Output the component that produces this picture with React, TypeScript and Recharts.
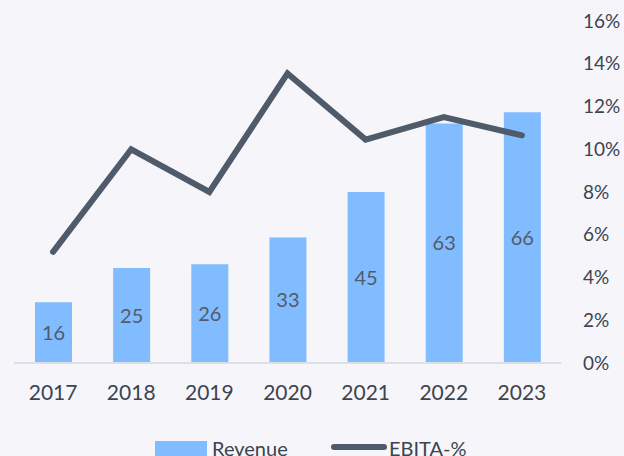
import type { JSX } from "react";
import { Bar, ComposedChart, LabelList, Legend, Line, XAxis, YAxis } from "recharts";

const years = ["2017", "2018", "2019", "2020", "2021", "2022", "2023"];
const revenue = [16, 25, 26, 33, 45, 63, 66];
const ebitaPct = [5.2, 10.0, 8.0, 13.55, 10.45, 11.5, 10.65];
const pctTicks = [0, 2, 4, 6, 8, 10, 12, 14, 16];

const BAR = "#80bcff";
const LINE = "#4f5a6a";
const TEXT = "#3d4350";
const FONT = "Lato, 'Open Sans', sans-serif";

const rows = years.map((y, i) => ({ year: y, revenue: revenue[i], ebita: ebitaPct[i] }));

function LegendBox(): JSX.Element {
  return (
    <div style={{ position: "relative", height: 30, fontFamily: FONT, fontSize: 20, color: TEXT }}>
      <div style={{ position: "absolute", left: 155, top: 4, width: 52, height: 20, background: BAR }} />
      <span style={{ position: "absolute", left: 212, top: -1, lineHeight: "24px" }}>Revenue</span>
      <div
        style={{ position: "absolute", left: 331, top: 7, width: 56, height: 6, borderRadius: 3, background: LINE }}
      />
      <span style={{ position: "absolute", left: 389, top: -1, lineHeight: "24px" }}>EBITA-%</span>
    </div>
  );
}

export default function App(): JSX.Element {
  return (
    <div
      style={{
        position: "absolute",
        left: 0,
        top: 0,
        width: 624,
        height: 456,
        overflow: "hidden",
        background: "#f6f6fa",
      }}
    >
      <ComposedChart width={624} height={456} data={rows} margin={{ top: 21, right: 0, left: 14, bottom: 23 }}>
        <XAxis
          dataKey="year"
          height={40}
          tickLine={false}
          tickSize={0}
          tickMargin={22}
          axisLine={{ stroke: "#dcdfe6", strokeWidth: 2 }}
          tick={{ fontSize: 21, fill: TEXT, fontFamily: FONT }}
        />
        <YAxis yAxisId="rev" hide domain={[0, 90]} />
        <YAxis
          yAxisId="pct"
          orientation="right"
          width={63}
          domain={[0, 16]}
          ticks={pctTicks}
          interval={0}
          tickFormatter={(v: number) => `${v}%`}
          axisLine={false}
          tickLine={false}
          tickSize={0}
          tickMargin={22}
          tick={{ fontSize: 19, fill: TEXT, fontFamily: FONT, textAnchor: "start" }}
        />
        <Bar yAxisId="rev" dataKey="revenue" name="Revenue" fill={BAR} barSize={37} isAnimationActive={false}>
          <LabelList dataKey="revenue" position="center" fill="#525b69" fontSize={20} fontFamily={FONT} />
        </Bar>
        <Line
          yAxisId="pct"
          dataKey="ebita"
          name="EBITA-%"
          stroke={LINE}
          strokeWidth={6}
          strokeLinecap="round"
          dot={false}
          activeDot={false}
          type="linear"
          isAnimationActive={false}
        />
        <Legend
          content={() => <LegendBox />}
          wrapperStyle={{ position: "absolute", top: 437, left: 0, width: 624 }}
        />
      </ComposedChart>
    </div>
  );
}
